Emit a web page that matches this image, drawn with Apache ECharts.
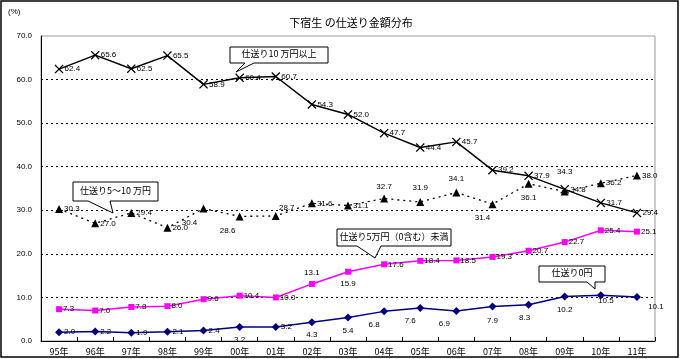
<!DOCTYPE html>
<html><head><meta charset="utf-8">
<script src="https://cdn.jsdelivr.net/npm/echarts@6/dist/echarts.min.js"></script>
<style>html,body{margin:0;padding:0;background:#fff}#c{width:680px;height:359px}</style>
</head><body><div id="c"></div>
<script>
const categories = ['95年','96年','97年','98年','99年','00年','01年','02年','03年','04年','05年','06年','07年','08年','09年','10年','11年'];
const over10 = [62.4,65.6,62.5,65.5,58.9,60.4,60.7,54.3,52.0,47.7,44.4,45.7,39.2,37.9,34.8,31.7,29.4];
const from5to10 = [30.3,27.0,29.4,26.0,30.4,28.6,28.7,31.6,31.1,32.7,31.9,34.1,31.4,36.1,34.3,36.2,38.0];
const under5 = [7.3,7.0,7.8,8.0,9.6,10.4,10.0,13.1,15.9,17.6,18.4,18.5,19.3,20.7,22.7,25.4,25.1];
const zero = [2.0,2.2,1.9,2.1,2.4,3.2,3.2,4.3,5.4,6.8,7.6,6.9,7.9,8.3,10.2,10.5,10.1];
const yTicks = [0,10,20,30,40,50,60,70];

// label placement (style only)
const R = {position:'right', distance:1};
const pos1 = Array(17).fill(R);
const pos2 = [R,R,R,R,{position:'inside',offset:[-14,14]},{position:'inside',offset:[-12,14]},{position:'inside',offset:[11,-8]},R,R,{position:'top',distance:4},{position:'top',distance:6},{position:'top',distance:6},{position:'inside',offset:[-10,14]},{position:'bottom',distance:6},{position:'top',distance:12},R,R];
const pos3 = [R,R,R,R,R,R,R,{position:'top',distance:4},{position:'bottom',distance:5},R,R,R,R,R,R,R,R];
const pos4 = [R,R,R,R,R,{position:'bottom',distance:5},R,{position:'bottom',distance:5},{position:'bottom',distance:5},{position:'inside',offset:[-10,13]},{position:'inside',offset:[-10,13]},{position:'inside',offset:[-12,13]},{position:'bottom',distance:6},{position:'inside',offset:[-4,13]},{position:'bottom',distance:5},{position:'inside',offset:[5,6]},{position:'inside',offset:[19,10]}];

const lblFont = {fontSize:8, color:'#000', fontFamily:'Liberation Sans, Arial, sans-serif'};
function items(vals, pos){
  return vals.map((v,i)=>({value:v, label:Object.assign({show:true, formatter:(p)=>p.value.toFixed(1)}, lblFont, pos[i])}));
}
const xSym = 'path://M0,1L1,0L5,4L9,0L10,1L6,5L10,9L9,10L5,6L1,10L0,9L4,5Z';

function callout(x,y,w,h,tail,text){
  const pts = [[x,y],[x+w,y],[x+w,y+h],[tail[3],y+h],[tail[1],tail[2]],[tail[0],y+h],[x,y+h]];
  return [
    {type:'polygon', shape:{points:pts}, style:{fill:'#fff', stroke:'#000', lineWidth:1}, z:100},
    {type:'text', x:x+w/2, y:y+h/2-1, style:{text:text, fill:'#000', font:'9px "Noto Sans CJK JP", sans-serif', textAlign:'center', textVerticalAlign:'middle'}, z:101}
  ];
}

const chart = echarts.init(document.getElementById('c'));
chart.setOption({
  animation:false,
  backgroundColor:'#fff',
  title:{text:'下宿生 の仕送り金額分布', left:346, top:12, textAlign:'center', textStyle:{fontSize:11, fontWeight:'normal', color:'#000', fontFamily:'"Noto Sans CJK JP", sans-serif'}},
  grid:{left:41, right:25, top:36, bottom:18, show:true, borderColor:'#999', borderWidth:1},
  xAxis:{type:'category', data:categories, boundaryGap:true,
    axisLine:{lineStyle:{color:'#000', width:1}},
    axisTick:{show:true, inside:true, length:4, lineStyle:{color:'#000'}},
    axisLabel:{fontSize:9, color:'#000', margin:6, fontFamily:'"Noto Sans CJK JP", sans-serif'}},
  yAxis:{type:'value', min:0, max:70, interval:10,
    axisLine:{show:true, lineStyle:{color:'#000', width:1}},
    axisTick:{show:false},
    axisLabel:{fontSize:8, color:'#000', margin:9, formatter:(v)=>v.toFixed(1), fontFamily:'Liberation Sans, Arial, sans-serif'},
    splitLine:{show:true, showMaxLine:false, showMinLine:false, lineStyle:{color:'#000', type:[2,3], width:1}}},
  series:[
    {name:'仕送り10万円以上', type:'line', data:items(over10,pos1), symbol:xSym, symbolSize:9,
      itemStyle:{color:'#000'}, lineStyle:{color:'#000', width:1.5}},
    {name:'仕送り5～10万円', type:'line', data:items(from5to10,pos2), symbol:'triangle', symbolSize:8,
      itemStyle:{color:'#000'}, lineStyle:{color:'#000', width:1.3, type:[2,4]}},
    {name:'仕送り5万円（0含む）未満', type:'line', data:items(under5,pos3), symbol:'rect', symbolSize:6,
      itemStyle:{color:'#ff00ff'}, lineStyle:{color:'#ff00ff', width:1.5}},
    {name:'仕送り0円', type:'line', data:items(zero,pos4), symbol:'diamond', symbolSize:8,
      itemStyle:{color:'#000080'}, lineStyle:{color:'#000080', width:1.5}}
  ],
  graphic:[
    {type:'rect', shape:{x:1, y:1, width:677, height:356}, style:{fill:null, stroke:'#000', lineWidth:1.5}, z:100},
    {type:'text', x:8, y:8, style:{text:'(%)', fill:'#000', font:'8px "Liberation Sans", sans-serif'}},
    ...callout(230,47,98,16,[245,236,72,254],'仕送り10 万円以上'),
    ...callout(73,182,85,19,[88,113,213,110],'仕送り5～10 万円'),
    ...callout(337,229,114,17,[357,375,258,381],'仕送り5万円（0含む）未満'),
    ...callout(539,266,66,16,[587,595,289,595],'仕送り0円')
  ]
});
</script></body></html>
